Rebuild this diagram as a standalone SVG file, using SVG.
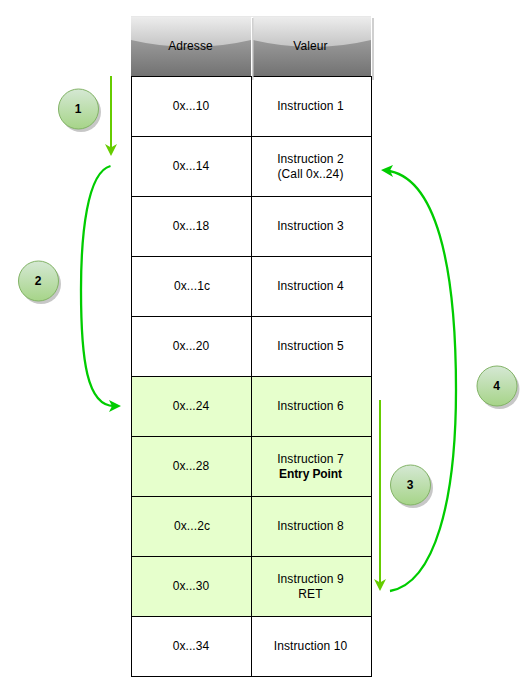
<svg xmlns="http://www.w3.org/2000/svg" width="530" height="691" viewBox="0 0 530 691">
<defs>
<linearGradient id="hdr" x1="0" y1="0" x2="0" y2="1"><stop offset="0" stop-color="#b4b4b4"/><stop offset="1" stop-color="#727272"/></linearGradient>
<linearGradient id="gloss" x1="0" y1="0" x2="0" y2="1"><stop offset="0" stop-color="#eeeeee"/><stop offset="1" stop-color="#c4c4c4"/></linearGradient>
<linearGradient id="badge" x1="0" y1="0" x2="0" y2="1"><stop offset="0" stop-color="#d5e8d4"/><stop offset="1" stop-color="#a6d488"/></linearGradient>
</defs>
<style>
text{font-family:"Liberation Sans",Arial,sans-serif;font-size:12px;fill:#000;text-anchor:middle;letter-spacing:.1px}
.c{fill:#fff;stroke:#000;stroke-width:1}
.g{fill:#e6ffcc;stroke:#000;stroke-width:1}
.b{fill:url(#badge);stroke:#82b366;stroke-width:1}
.s{fill:#000;fill-opacity:.22;stroke:none}
.n{font-weight:bold;letter-spacing:-.1px}
.l{fill:none;stroke:#66cc00;stroke-width:2}
.k{fill:none;stroke:#00cc00;stroke-width:2.300}
.ah{fill:#00cc00}
.ag{fill:#66cc00}
.hs{fill:#d0d0d0}
</style>
<g id="header-adresse">
<rect x="131" y="16" width="120" height="60" fill="url(#hdr)"/>
<path d="M131 16H251V40Q191 54 131 40Z" fill="url(#gloss)"/>
<path d="M131 16.500H251" stroke="#e8e8e8" fill="none"/>
<text x="190.500" y="50">Adresse</text>
</g>
<g id="header-valeur">
<rect x="253" y="16" width="118" height="60" fill="url(#hdr)"/>
<path d="M253 16H371V40Q312 54 253 40Z" fill="url(#gloss)"/>
<path d="M251 16.500H371" stroke="#e8e8e8" fill="none"/>
<text x="310.500" y="50">Valeur</text>
</g>
<g id="row-10"><rect class="c" x="131.500" y="76.500" width="120" height="60"/><rect class="c" x="251.500" y="76.500" width="120" height="60"/><text x="191" y="110">0x...10</text><text x="310.500" y="110">Instruction 1</text></g>
<g id="row-14"><rect class="c" x="131.500" y="136.500" width="120" height="60"/><rect class="c" x="251.500" y="136.500" width="120" height="60"/><text x="191" y="170">0x...14</text><text x="310.500" y="163">Instruction 2</text><text x="310.500" y="178">(Call 0x..24)</text></g>
<g id="row-18"><rect class="c" x="131.500" y="196.500" width="120" height="60"/><rect class="c" x="251.500" y="196.500" width="120" height="60"/><text x="191" y="230">0x...18</text><text x="310.500" y="230">Instruction 3</text></g>
<g id="row-1c"><rect class="c" x="131.500" y="256.500" width="120" height="60"/><rect class="c" x="251.500" y="256.500" width="120" height="60"/><text x="192" y="290">0x...1c</text><text x="310.500" y="290">Instruction 4</text></g>
<g id="row-20"><rect class="c" x="131.500" y="316.500" width="120" height="60"/><rect class="c" x="251.500" y="316.500" width="120" height="60"/><text x="191" y="350">0x...20</text><text x="310.500" y="350">Instruction 5</text></g>
<g id="row-24"><rect class="g" x="131.500" y="376.500" width="120" height="60"/><rect class="g" x="251.500" y="376.500" width="120" height="60"/><text x="191" y="410">0x...24</text><text x="310.500" y="410">Instruction 6</text></g>
<g id="row-28"><rect class="g" x="131.500" y="436.500" width="120" height="60"/><rect class="g" x="251.500" y="436.500" width="120" height="60"/><text x="191" y="470">0x...28</text><text x="310.500" y="463">Instruction 7</text><text class="n" x="310.500" y="478">Entry Point</text></g>
<g id="row-2c"><rect class="g" x="131.500" y="496.500" width="120" height="60"/><rect class="g" x="251.500" y="496.500" width="120" height="60"/><text x="192" y="530">0x...2c</text><text x="310.500" y="530">Instruction 8</text></g>
<g id="row-30"><rect class="g" x="131.500" y="556.500" width="120" height="60"/><rect class="g" x="251.500" y="556.500" width="120" height="60"/><text x="191" y="590">0x...30</text><text x="310.500" y="583">Instruction 9</text><text x="310.500" y="598">RET</text></g>
<g id="row-34"><rect class="c" x="131.500" y="616.500" width="120" height="60"/><rect class="c" x="251.500" y="616.500" width="120" height="60"/><text x="191" y="650">0x...34</text><text x="310.500" y="650">Instruction 10</text></g>
<g id="header-shadow">
<rect class="hs" x="252" y="18" width="1.500" height="62"/>
<rect class="hs" x="372" y="18" width="2" height="62"/>
</g>
<g id="connectors">
<path class="l" d="M111 76V150"/><path class="ag" d="M105 144L111 147.500L117 144L111 156Z"/>
<path class="l" d="M380 400V584"/><path class="ag" d="M374 579L380 582.500L386 579L380 591Z"/>
<path class="k" d="M110.500 166C87 172 81 235 81 290C81 360 87 406 114 406"/><path class="ah" d="M121 406L109 400L112 406L109 412Z"/>
<path class="k" d="M390 591C435 583 456 500 456 390C456 265 436 176 386 170.500"/><path class="ah" d="M381 170L393 165L390 170.500L393 177Z"/>
</g>
<g id="badge-1"><circle class="s" cx="81" cy="112" r="20"/><circle class="b" cx="78.500" cy="109" r="20"/><text class="n" x="78" y="113">1</text></g>
<g id="badge-2"><circle class="s" cx="41" cy="284" r="20"/><circle class="b" cx="38.500" cy="281" r="20"/><text class="n" x="38" y="285">2</text></g>
<g id="badge-3"><circle class="s" cx="413" cy="488" r="20"/><circle class="b" cx="410.500" cy="485" r="20"/><text class="n" x="410" y="489">3</text></g>
<g id="badge-4"><circle class="s" cx="499.500" cy="389" r="20"/><circle class="b" cx="497" cy="386" r="20"/><text class="n" x="496.500" y="390">4</text></g>
</svg>
